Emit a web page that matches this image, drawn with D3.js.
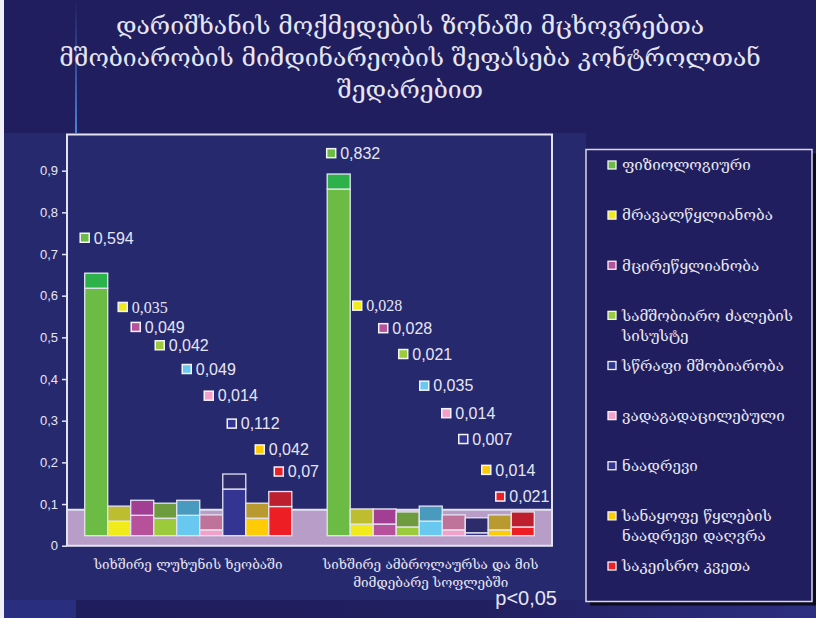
<!DOCTYPE html>
<html>
<head>
<meta charset="utf-8">
<script src="https://cdn.jsdelivr.net/npm/d3@7"></script>
<style>
  html, body { margin: 0; padding: 0; background: #201E5E; }
  svg { display: block; }
</style>
</head>
<body>
<svg id="chart" width="816" height="618"></svg>
<script>
// ---- data ----
const titleLines = [
  "დარიშხანის მოქმედების ზონაში მცხოვრებთა",
  "მშობიარობის მიმდინარეობის შეფასება კონტროლთან",
  "შედარებით"
];
const categories = [
  "სიხშირე ლუხუნის ხეობაში",
  "სიხშირე ამბროლაურსა და მის მიმდებარე სოფლებში"
];
const categoryLines = [
  ["სიხშირე ლუხუნის ხეობაში"],
  ["სიხშირე ამბროლაურსა და მის", "მიმდებარე სოფლებში"]
];
const seriesNames = [
  "ფიზიოლოგიური",
  "მრავალწყლიანობა",
  "მცირეწყლიანობა",
  "სამშობიარო ძალების სისუსტე",
  "სწრაფი მშობიარობა",
  "ვადაგადაცილებული",
  "ნაადრევი",
  "სანაყოფე წყლების ნაადრევი დაღვრა",
  "საკეისრო კვეთა"
];
const legendLines = [
  ["ფიზიოლოგიური"],
  ["მრავალწყლიანობა"],
  ["მცირეწყლიანობა"],
  ["სამშობიარო ძალების", "სისუსტე"],
  ["სწრაფი მშობიარობა"],
  ["ვადაგადაცილებული"],
  ["ნაადრევი"],
  ["სანაყოფე წყლების", "ნაადრევი დაღვრა"],
  ["საკეისრო კვეთა"]
];
const luxuniValues     = [0.594, 0.035, 0.049, 0.042, 0.049, 0.014, 0.112, 0.042, 0.07];
const ambrolauriValues = [0.832, 0.028, 0.028, 0.021, 0.035, 0.014, 0.007, 0.014, 0.021];
const yTicks     = [0, 0.1, 0.2, 0.3, 0.4, 0.5, 0.6, 0.7, 0.8, 0.9];
const tickLabels = ["0", "0,1", "0,2", "0,3", "0,4", "0,5", "0,6", "0,7", "0,8", "0,9"];
const noteText = "p<0,05";

// where each value tag sits: level on the value axis, and a sideways nudge (px)
const luxuniTagLevel     = [0.739, 0.573, 0.525, 0.481, 0.424, 0.360, 0.293, 0.231, 0.178];
const ambrolauriTagLevel = [0.942, 0.576, 0.522, 0.460, 0.384, 0.318, 0.256, 0.182, 0.118];
const luxuniTagShift     = [0, 15, 5, 6, 10, 9, 9, 14, 10];
const ambrolauriTagShift = [4, 7, 10, 7, 5, 4, -2, -2, -11];
// tags rendered in a serif face
const serifTags = [[1], [1]];

// ---- styling ----
const frontColors = ["#6CBB45", "#F2EB1C", "#B8519B", "#9BCA3B", "#68C8F0", "#F5A0C9", "#343592", "#FFCB05", "#EE1E25"];
const capColors   = ["#2DB24B", "#BEBD2F", "#A23E93", "#6F9B3F", "#489ABF", "#C0739A", "#2E2B6C", "#B99A30", "#BE1F2E"];
const legendKeyColors = ["#6CBB45", "#F2EB1C", "#B8519B", "#9BCA3B", "#2F3A8E", "#F5A0C9", "#343592", "#FFCB05", "#EE1E25"];
const textColor = "#E6E6F2";
const lineColor = "#E4E4F0";
const geo = "'DejaVu Serif', 'DejaVu Sans', serif";
const sans = "'Liberation Sans', Arial, sans-serif";

const svg = d3.select("#chart");
const W = 816, H = 618;

const groups = [
  { name: categories[0], lines: categoryLines[0], values: luxuniValues, level: luxuniTagLevel, shift: luxuniTagShift, serif: serifTags[0] },
  { name: categories[1], lines: categoryLines[1], values: ambrolauriValues, level: ambrolauriTagLevel, shift: ambrolauriTagShift, serif: serifTags[1] }
];

// ---- slide background ----
const defs = svg.append("defs");
const stripGrad = defs.append("linearGradient").attr("id", "strip").attr("x1", 0).attr("x2", 1).attr("y1", 0).attr("y2", 0);
stripGrad.append("stop").attr("offset", "0%").attr("stop-color", "#1F1D5B");
stripGrad.append("stop").attr("offset", "55%").attr("stop-color", "#221F60");
stripGrad.append("stop").attr("offset", "100%").attr("stop-color", "#2C2F80");
const ruleGrad = defs.append("linearGradient").attr("id", "rule").attr("x1", 0).attr("x2", 0).attr("y1", 0).attr("y2", 1);
ruleGrad.append("stop").attr("offset", "0%").attr("stop-color", "#201E5E");
ruleGrad.append("stop").attr("offset", "100%").attr("stop-color", "#4C82D4");

svg.append("rect").attr("width", W).attr("height", H).attr("fill", "#201E5E");
svg.append("rect").attr("x", 4).attr("y", 133).attr("width", 582).attr("height", 467).attr("fill", "#27296F");
svg.append("rect").attr("x", 76).attr("y", 600).attr("width", W - 76).attr("height", 18).attr("fill", "url(#strip)");
svg.append("rect").attr("x", 4).attr("y", 600).attr("width", 72).attr("height", 18).attr("fill", "#2A2E7E");
svg.append("rect").attr("x", 75).attr("y", 0).attr("width", 2).attr("height", 133).attr("fill", "url(#rule)");
svg.append("rect").attr("x", 0).attr("y", 0).attr("width", 4).attr("height", H).attr("fill", "#F0F0F6");

// ---- scales ----
const plotLeft = 67, plotRight = 552, plotTop = 134.5;
const y = d3.scaleLinear().domain([0, 1]).range([545.7, 129]);
const x0 = d3.scaleBand().domain(categories).range([plotLeft, plotRight]).paddingInner(0.146).paddingOuter(0.073);
const x1 = d3.scaleBand().domain(seriesNames).range([0, x0.bandwidth()]);

// oblique depth of the floor and of the bars (px)
const floorDepth = 36, barFront = 10, barDepth = 15;

// ---- floor and frame ----
svg.append("rect")
  .attr("x", plotLeft).attr("y", y(0) - floorDepth)
  .attr("width", plotRight - plotLeft).attr("height", floorDepth)
  .attr("fill", "#B89DC9");
const frame = svg.append("g").attr("stroke", lineColor).attr("stroke-width", 2).attr("fill", "none");
frame.append("path").attr("d", `M${plotLeft},${y(0)}V${plotTop}H${plotRight}V${y(0)}Z`);
frame.append("line").attr("x1", plotLeft).attr("x2", plotRight).attr("y1", y(0) - floorDepth).attr("y2", y(0) - floorDepth);

// ---- value axis ----
const axis = svg.append("g")
  .attr("transform", `translate(${plotLeft},0)`)
  .call(d3.axisLeft(y).tickValues(yTicks).tickFormat((d, i) => tickLabels[i]).tickSize(5).tickPadding(4));
axis.select(".domain").remove();
axis.selectAll(".tick line").attr("stroke", lineColor).attr("stroke-width", 1.5);
axis.selectAll(".tick text").attr("fill", textColor).attr("font-family", sans).attr("font-size", 13);

// ---- bars ----
const fmt = d3.formatLocale({ decimal: ",", thousands: " ", grouping: [3], currency: ["", ""] }).format(".3~f");

const g = svg.selectAll(".group").data(groups).join("g")
  .attr("class", "group")
  .attr("transform", d => `translate(${x0(d.name)},0)`);

const bar = g.selectAll(".bar").data(d => d.values.map((v, i) => ({ v, i }))).join("g").attr("class", "bar");
bar.append("rect")
  .attr("x", d => x1(seriesNames[d.i]))
  .attr("width", x1.bandwidth())
  .attr("y", d => y(d.v) - barFront)
  .attr("height", d => y(0) - y(d.v))
  .attr("fill", d => frontColors[d.i])
  .attr("stroke", lineColor).attr("stroke-width", 1.3);
bar.append("rect")
  .attr("x", d => x1(seriesNames[d.i]))
  .attr("width", x1.bandwidth())
  .attr("y", d => y(d.v) - barFront - barDepth)
  .attr("height", barDepth)
  .attr("fill", d => capColors[d.i])
  .attr("stroke", lineColor).attr("stroke-width", 1.3);

// ---- value tags ----
const tag = g.selectAll(".tag").data(d => d.values.map((v, i) => ({ v, i, level: d.level[i], shift: d.shift[i], serif: d.serif.includes(i) })))
  .join("g").attr("class", "tag")
  .attr("transform", d => `translate(${x1(seriesNames[d.i]) + d.shift},${y(d.level)})`);
tag.append("rect")
  .attr("x", -4.5).attr("y", -4.5).attr("width", 9).attr("height", 9)
  .attr("fill", d => frontColors[d.i])
  .attr("stroke", "#F4F4FA").attr("stroke-width", 1.5);
tag.append("text")
  .attr("x", 9).attr("dy", "0.36em")
  .attr("fill", textColor)
  .attr("font-family", d => d.serif ? "'Liberation Serif', 'Times New Roman', serif" : sans)
  .attr("font-size", 16)
  .text(d => fmt(d.v));

// ---- category labels ----
function fitFont(sel, width) {
  const fs = parseFloat(sel.attr("font-size"));
  const w = sel.node().getComputedTextLength();
  return fs * width / w;
}
const catText = svg.selectAll(".cat").data(groups).join("text")
  .attr("class", "cat")
  .attr("x", d => x0(d.name) + x0.bandwidth() / 2)
  .attr("text-anchor", "middle")
  .attr("fill", textColor)
  .attr("font-family", geo)
  .attr("font-size", 12);
catText.selectAll("tspan").data(d => d.lines).join("tspan")
  .attr("x", function () { return d3.select(this.parentNode).attr("x"); })
  .attr("y", (d, i) => 569 + i * 18)
  .text(d => d);
{
  const probe = svg.append("text").attr("font-family", geo).attr("font-size", 12).text(categoryLines[0][0]);
  const fs = fitFont(probe, 189);
  probe.remove();
  catText.attr("font-size", fs);
}

// ---- note ----
svg.append("text")
  .attr("x", 557).attr("y", 605)
  .attr("text-anchor", "end")
  .attr("fill", textColor)
  .attr("font-family", sans).attr("font-size", 20)
  .text(noteText);

// ---- legend ----
const lg = svg.append("g");
lg.append("rect").attr("x", 590).attr("y", 153.5).attr("width", 226).attr("height", 452).attr("fill", "#0B0A1E");
lg.append("rect").attr("x", 586).attr("y", 149.5).attr("width", 226).attr("height", 452)
  .attr("fill", "#201E5E").attr("stroke", "#D8D8E8").attr("stroke-width", 1.5);
const legendY = d3.scalePoint().domain(seriesNames).range([165, 566]);
const item = lg.selectAll(".item").data(seriesNames).join("g")
  .attr("class", "item")
  .attr("transform", d => `translate(612,${legendY(d)})`);
item.append("rect")
  .attr("x", -4).attr("y", -4).attr("width", 8).attr("height", 8)
  .attr("fill", (d, i) => legendKeyColors[i])
  .attr("stroke", "#F4F4FA").attr("stroke-width", 1.3);
const legText = item.append("text")
  .attr("x", 10).attr("y", 0)
  .attr("fill", textColor)
  .attr("font-family", geo)
  .attr("font-size", 14);
legText.selectAll("tspan").data((d, i) => legendLines[i]).join("tspan")
  .attr("x", 10)
  .attr("y", (d, i) => i * 20)
  .attr("dy", "0.35em")
  .text(d => d);
{
  const probe = svg.append("text").attr("font-family", geo).attr("font-size", 14).text(legendLines[0][0]);
  const fs = fitFont(probe, 129);
  probe.remove();
  legText.attr("font-size", fs);
}

// ---- title ----
const title = svg.append("text")
  .attr("text-anchor", "middle")
  .attr("fill", textColor)
  .attr("font-family", geo)
  .attr("font-size", 24);
title.selectAll("tspan").data(titleLines).join("tspan")
  .attr("x", 410)
  .attr("y", (d, i) => 34 + i * 32)
  .text(d => d);
{
  const probe = svg.append("text").attr("font-family", geo).attr("font-size", 24).text(titleLines[1]);
  const fs = fitFont(probe, 702);
  probe.remove();
  title.attr("font-size", fs);
}
</script>
</body>
</html>
